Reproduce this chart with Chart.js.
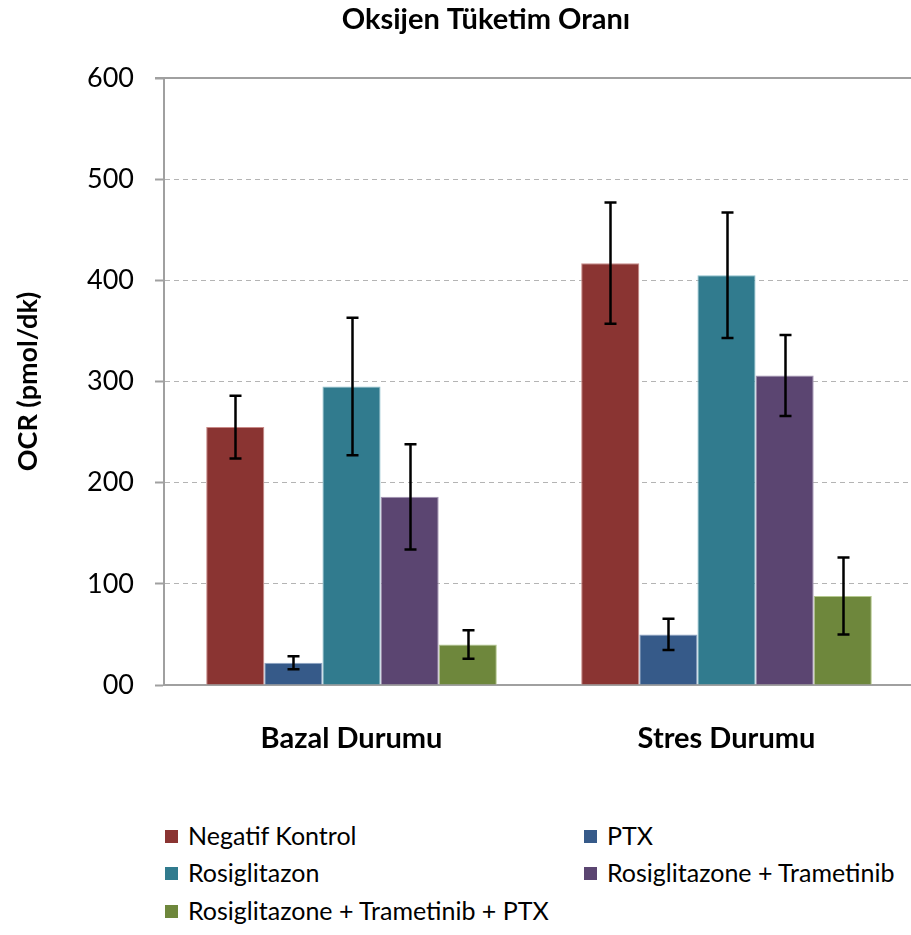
<!DOCTYPE html>
<html lang="tr">
<head>
<meta charset="utf-8">
<title>Oksijen Tüketim Oranı</title>
<script src="https://cdn.jsdelivr.net/npm/chart.js@4/dist/chart.umd.min.js"></script>
<style>
  html, body { margin: 0; padding: 0; background: #fff; overflow: hidden; }
  #wrap { position: relative; width: 911px; height: 935px; overflow: hidden; }
  #chart { position: absolute; left: 0; top: 0; }
  .legend { position: absolute; font-family: Lato, "Noto Sans", sans-serif; font-size: 25px; color: #000; white-space: nowrap; line-height: 28px; }
  .legend .sw { display: inline-block; width: 13px; height: 13px; margin-right: 10px; vertical-align: 2px; }
</style>
</head>
<body>
<div id="wrap">
  <canvas id="chart" width="972" height="780" style="width:972px;height:780px"></canvas>
  <div id="legend"></div>
</div>
<script>
// Categories and measurement groups
const categories = ['Bazal Durumu', 'Stres Durumu'];
const seriesNames = [
  'Negatif Kontrol',
  'PTX',
  'Rosiglitazon',
  'Rosiglitazone + Trametinib',
  'Rosiglitazone + Trametinib + PTX'
];
const seriesColors = ['#8A3432', '#365A89', '#317B8E', '#5B4571', '#6E873C'];
const seriesEdges  = ['#C98A88', '#8FA6C6', '#8DBFCC', '#A394B4', '#B5C98F'];

// Mean OCR values (pmol/dk) per series: [Bazal, Stres]
const negatifKontrol = [255, 417];
const ptx            = [22, 50];
const rosiglitazon   = [295, 405];
const rosiTrametinib = [186, 306];
const rosiTramPtx    = [40, 88];

// Error (±) per series: [Bazal, Stres]
const errNegatifKontrol = [31, 60];
const errPtx            = [6.5, 15.5];
const errRosiglitazon   = [68, 62];
const errRosiTrametinib = [52, 40];
const errRosiTramPtx    = [14, 38];

const yTickLabels = ['00', '100', '200', '300', '400', '500', '600'];
const chartTitle = 'Oksijen Tüketim Oranı';

const seriesValues = [negatifKontrol, ptx, rosiglitazon, rosiTrametinib, rosiTramPtx];
const seriesErrors = [errNegatifKontrol, errPtx, errRosiglitazon, errRosiTrametinib, errRosiTramPtx];

const FONT = 'Lato, "Noto Sans", sans-serif';
const AXIS_GRAY = '#A0A0A0';

// Whisker plot for ± error on each bar
const errorBars = {
  id: 'errorBars',
  afterDatasetsDraw(chart) {
    const ctx = chart.ctx;
    const y = chart.scales.y;
    ctx.save();
    ctx.strokeStyle = '#000';
    ctx.lineWidth = 2.5;
    chart.data.datasets.forEach((ds, i) => {
      const meta = chart.getDatasetMeta(i);
      meta.data.forEach((bar, j) => {
        const v = ds.data[j];
        const e = ds.errors[j];
        const top = y.getPixelForValue(v + e);
        const bot = y.getPixelForValue(v - e);
        const x = Math.round(bar.x) + 0.5;
        ctx.beginPath();
        ctx.moveTo(x, top); ctx.lineTo(x, bot);
        ctx.moveTo(x - 6, top); ctx.lineTo(x + 6, top);
        ctx.moveTo(x - 6, bot); ctx.lineTo(x + 6, bot);
        ctx.stroke();
      });
    });
    ctx.restore();
  }
};

// Solid frame line at the top of the value axis
const topLine = {
  id: 'topLine',
  beforeDatasetsDraw(chart) {
    const ctx = chart.ctx;
    const y = chart.scales.y;
    const py = Math.round(y.getPixelForValue(y.max));
    ctx.save();
    ctx.strokeStyle = AXIS_GRAY;
    ctx.lineWidth = 2;
    ctx.beginPath();
    ctx.moveTo(chart.chartArea.left - 9, py);
    ctx.lineTo(chart.chartArea.right, py);
    ctx.stroke();
    ctx.restore();
  }
};

// Chart heading, centred over the whole chart frame
const heading = {
  id: 'heading',
  afterDraw(chart) {
    const ctx = chart.ctx;
    ctx.save();
    ctx.fillStyle = '#000';
    ctx.font = 'bold 29px ' + FONT;
    ctx.textAlign = 'center';
    ctx.textBaseline = 'middle';
    ctx.fillText(chartTitle, chart.width / 2, 20);
    ctx.restore();
  }
};

const datasets = seriesNames.map((name, i) => ({
  label: name,
  data: seriesValues[i],
  errors: seriesErrors[i],
  backgroundColor: seriesColors[i],
  borderColor: seriesEdges[i],
  borderWidth: 1,
  barPercentage: 1.0,
  categoryPercentage: 0.775
}));

const CANVAS_H = 780;
const PLOT_BOTTOM = 685;

new Chart(document.getElementById('chart'), {
  type: 'bar',
  data: { labels: categories, datasets },
  plugins: [topLine, errorBars, heading],
  options: {
    responsive: false,
    animation: false,
    layout: { padding: { left: 0, right: 58, top: 78, bottom: 0 } },
    plugins: {
      legend: { display: false },
      tooltip: { enabled: false },
      title: { display: false }
    },
    scales: {
      x: {
        grid: { display: false, drawTicks: false },
        border: { display: true, color: AXIS_GRAY, width: 2 },
        ticks: {
          color: '#000',
          font: { family: FONT, size: 29, weight: 'bold' },
          padding: 36
        },
        afterFit(scale) { scale.height = CANVAS_H - PLOT_BOTTOM; }
      },
      y: {
        min: 0,
        max: 600,
        grid: {
          color: '#B4B4B4',
          lineWidth: 1,
          drawTicks: true,
          tickLength: 9,
          tickColor: AXIS_GRAY,
          tickWidth: 2
        },
        border: { display: true, color: AXIS_GRAY, width: 2, dash: [5, 4] },
        ticks: {
          stepSize: 100,
          color: '#000',
          font: { family: FONT, size: 27 },
          padding: 21,
          callback: (v, i) => yTickLabels[i]
        },
        title: {
          display: true,
          text: 'OCR (pmol/dk)',
          color: '#000',
          font: { family: FONT, size: 27, weight: 'bold' },
          padding: { top: 12, bottom: 0 }
        },
        afterFit(scale) { scale.width = 164; }
      }
    }
  }
});

// Legend in two columns below the plot
const legendPos = [
  { left: 165, top: 821 },
  { left: 584, top: 821 },
  { left: 165, top: 858 },
  { left: 584, top: 858 },
  { left: 165, top: 896 }
];
const legendEl = document.getElementById('legend');
seriesNames.forEach((name, i) => {
  const item = document.createElement('div');
  item.className = 'legend';
  item.style.left = legendPos[i].left + 'px';
  item.style.top = legendPos[i].top + 'px';
  const sw = document.createElement('span');
  sw.className = 'sw';
  sw.style.background = seriesColors[i];
  item.appendChild(sw);
  item.appendChild(document.createTextNode(name));
  legendEl.appendChild(item);
});
</script>
</body>
</html>
